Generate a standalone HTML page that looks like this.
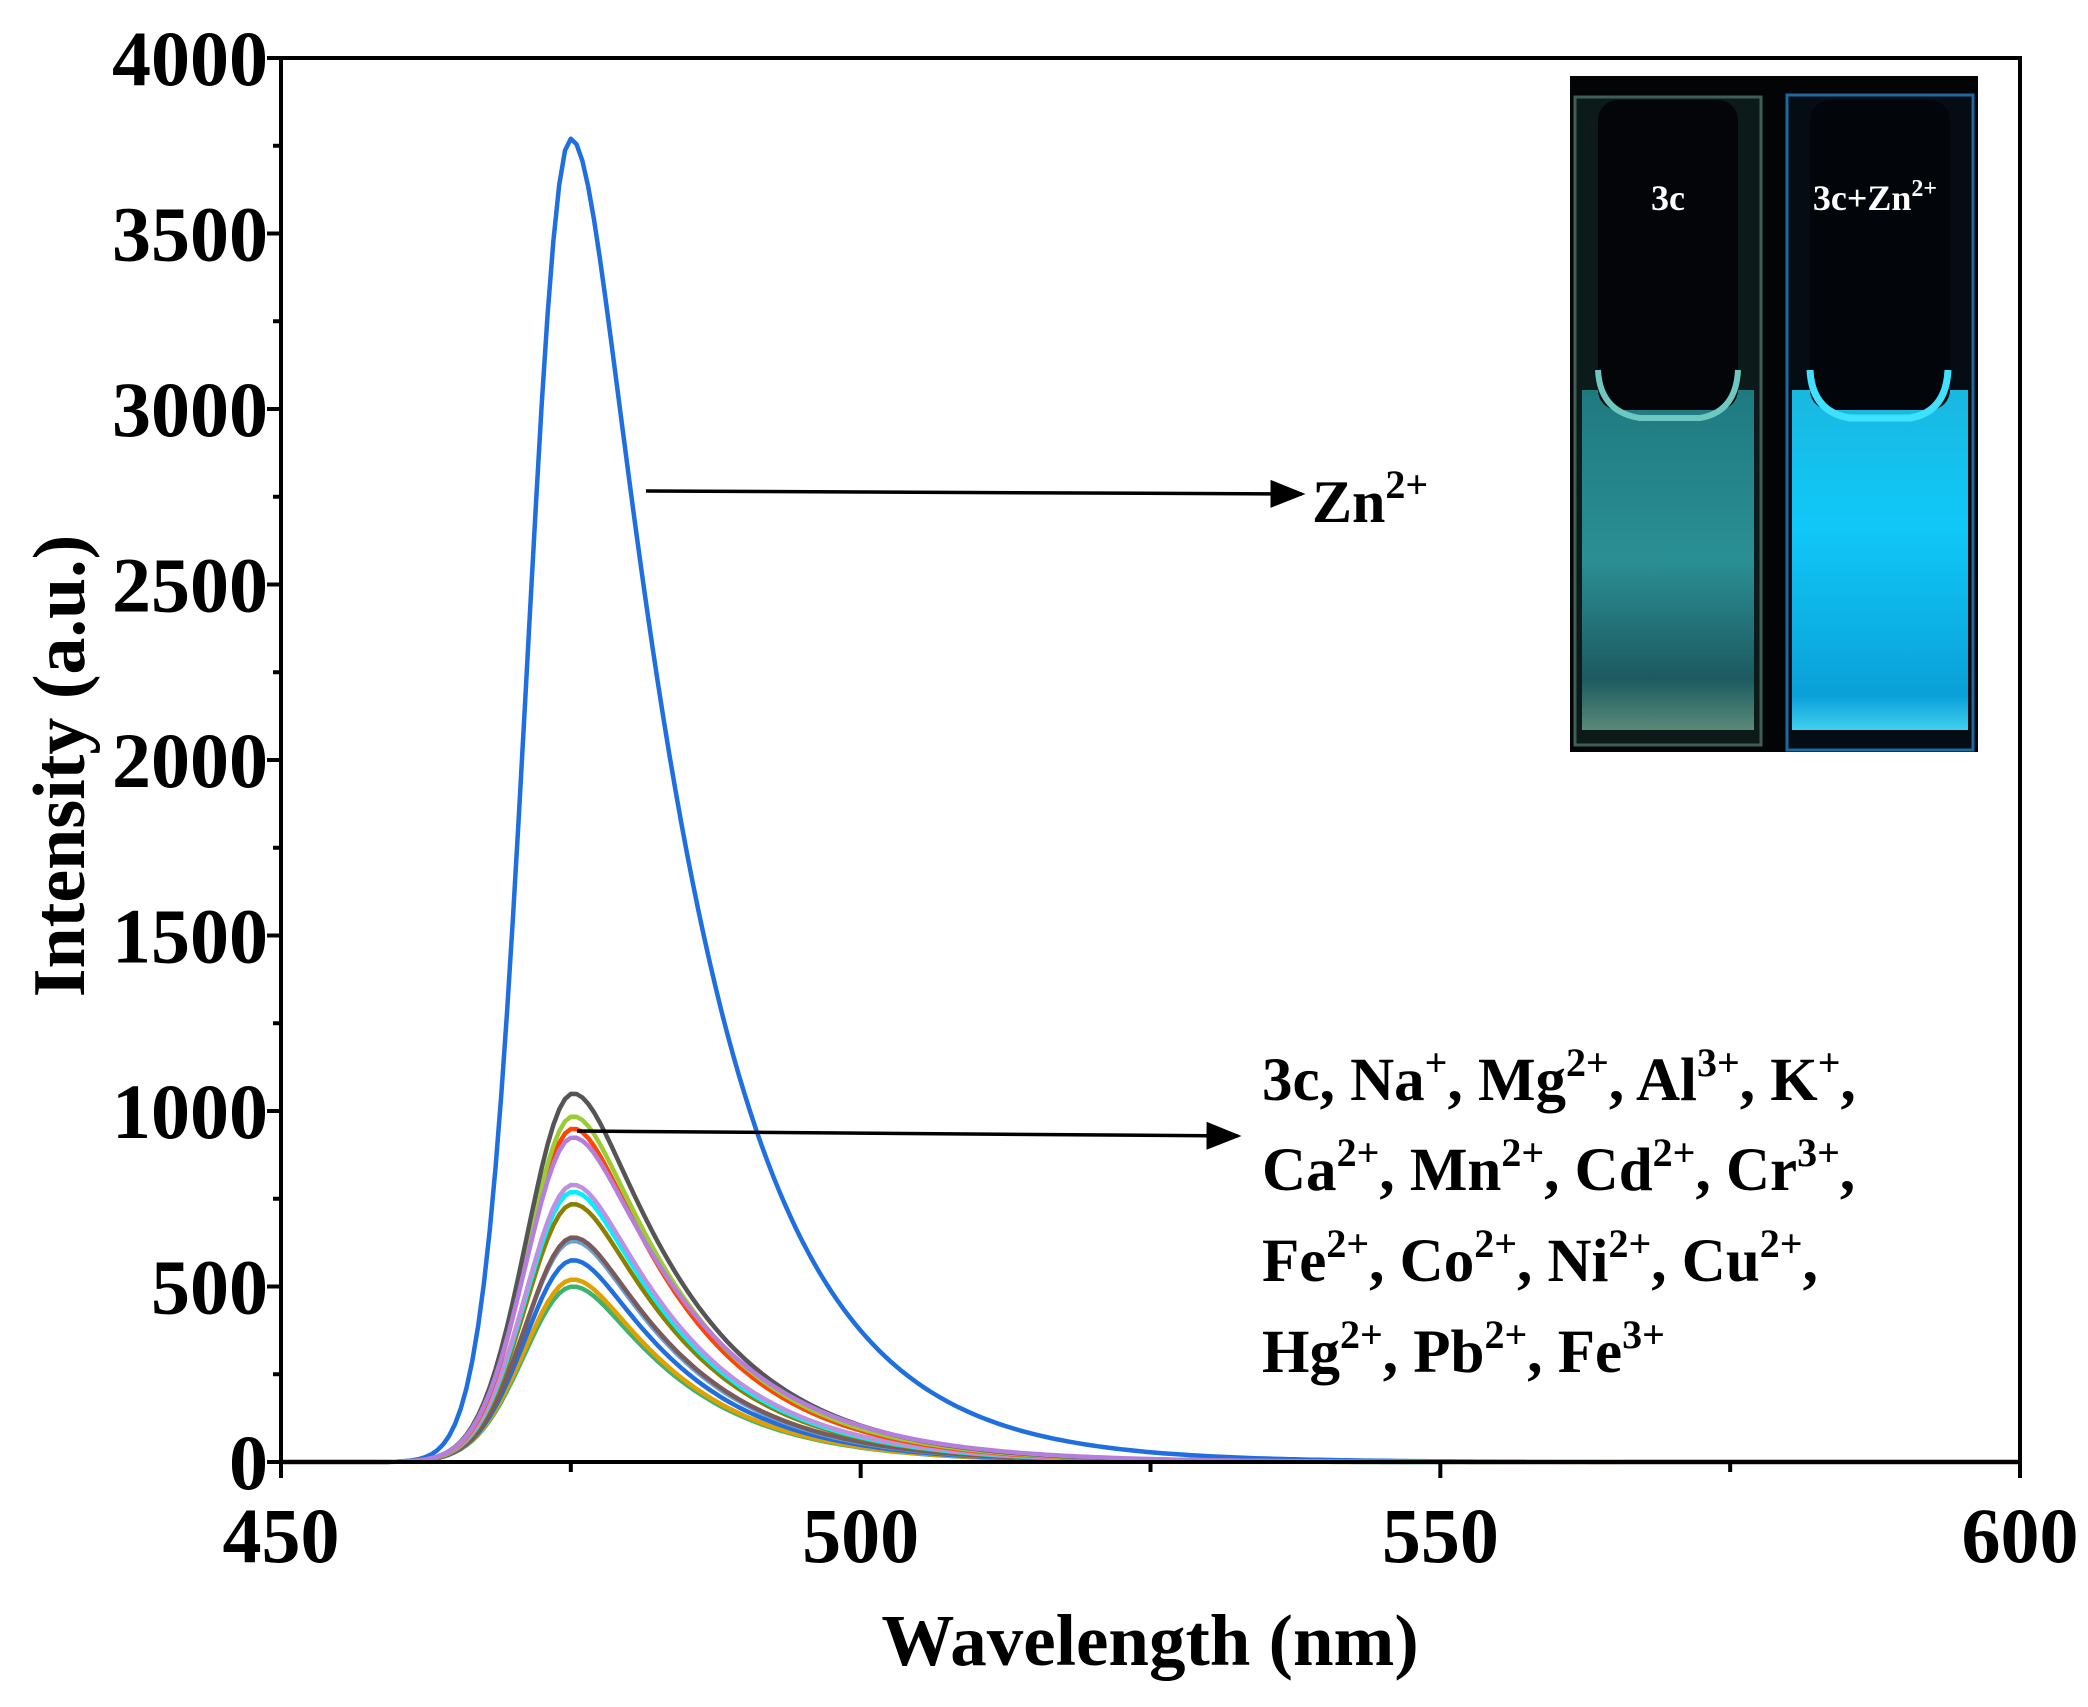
<!DOCTYPE html>
<html><head><meta charset="utf-8"><style>
html,body{margin:0;padding:0;background:#fff}
svg{display:block;font-family:"Liberation Serif",serif;font-weight:bold}
</style></head><body>
<svg id="s" width="2088" height="1707" viewBox="0 0 2088 1707" xmlns="http://www.w3.org/2000/svg">
<defs>
<linearGradient id="gl" x1="0" y1="0" x2="0" y2="1">
<stop offset="0" stop-color="#1e7a80"/><stop offset="0.5" stop-color="#2a8f94"/><stop offset="0.85" stop-color="#1c5a60"/><stop offset="1" stop-color="#5a8a78"/></linearGradient>
<linearGradient id="gr" x1="0" y1="0" x2="0" y2="1">
<stop offset="0" stop-color="#19b8e0"/><stop offset="0.4" stop-color="#10c8f8"/><stop offset="0.9" stop-color="#0aa0d8"/><stop offset="1" stop-color="#40d0f0"/></linearGradient>
<marker id="ah" markerWidth="10" markerHeight="8" refX="9" refY="4" orient="auto" markerUnits="strokeWidth"><path d="M0,0 L10,4 L0,8 z" fill="#000"/></marker>
</defs>
<g id="curves" fill="none" stroke-width="4.5" stroke-linejoin="round"></g>
<rect x="281" y="58" width="1739" height="1404" fill="none" stroke="#000" stroke-width="4"/>
<g id="ticks" stroke="#000" stroke-width="4"></g>
<g id="labels" font-size="78" fill="#000"></g>
<text x="1150" y="1665" font-size="73" text-anchor="middle">Wavelength (nm)</text>
<text transform="translate(84,766) rotate(-90)" font-size="74" text-anchor="middle">Intensity (a.u.)</text>
<!-- photo -->
<rect x="1570" y="76" width="408" height="676" fill="#020406"/>
<rect x="1575" y="97" width="186" height="648" fill="#0c1a1a" stroke="#3f5f55" stroke-width="3"/>
<rect x="1582" y="390" width="172" height="340" fill="url(#gl)"/>
<rect x="1598" y="100" width="140" height="310" rx="20" fill="#030508"/>
<path d="M1598,370 Q1600,412 1640,418 L1700,418 Q1736,412 1738,370" fill="none" stroke="#6fc8c0" stroke-width="6"/>
<rect x="1787" y="95" width="186" height="655" fill="#050c14" stroke="#1a6aa0" stroke-width="3"/>
<rect x="1792" y="390" width="176" height="340" fill="url(#gr)"/>
<rect x="1810" y="100" width="140" height="310" rx="20" fill="#02060a"/>
<path d="M1810,370 Q1812,412 1850,418 L1910,418 Q1946,412 1948,370" fill="none" stroke="#40e0ff" stroke-width="7"/>
<text x="1668" y="210" font-size="36" fill="#fff" text-anchor="middle">3c</text>
<text x="1875" y="210" font-size="36" fill="#fff" text-anchor="middle">3c+Zn<tspan font-size="24" dy="-14">2+</tspan></text>
<!-- annotations -->
<line x1="646" y1="491" x2="1302" y2="494" stroke="#000" stroke-width="3.5" marker-end="url(#ah)"/>
<text x="1312" y="522" font-size="60">Zn<tspan font-size="40" dy="-24">2+</tspan></text>
<line x1="577" y1="1131" x2="1238" y2="1136" stroke="#000" stroke-width="3.5" marker-end="url(#ah)"/>
<g font-size="61">
<text x="1262" y="1100">3c, Na<tspan font-size="40" dy="-24">+</tspan><tspan dy="24">, Mg</tspan><tspan font-size="40" dy="-24">2+</tspan><tspan dy="24">, Al</tspan><tspan font-size="40" dy="-24">3+</tspan><tspan dy="24">, K</tspan><tspan font-size="40" dy="-24">+</tspan><tspan dy="24">,</tspan></text>
<text x="1262" y="1190">Ca<tspan font-size="40" dy="-24">2+</tspan><tspan dy="24">, Mn</tspan><tspan font-size="40" dy="-24">2+</tspan><tspan dy="24">, Cd</tspan><tspan font-size="40" dy="-24">2+</tspan><tspan dy="24">, Cr</tspan><tspan font-size="40" dy="-24">3+</tspan><tspan dy="24">,</tspan></text>
<text x="1262" y="1281">Fe<tspan font-size="40" dy="-24">2+</tspan><tspan dy="24">, Co</tspan><tspan font-size="40" dy="-24">2+</tspan><tspan dy="24">, Ni</tspan><tspan font-size="40" dy="-24">2+</tspan><tspan dy="24">, Cu</tspan><tspan font-size="40" dy="-24">2+</tspan><tspan dy="24">,</tspan></text>
<text x="1262" y="1372">Hg<tspan font-size="40" dy="-24">2+</tspan><tspan dy="24">, Pb</tspan><tspan font-size="40" dy="-24">2+</tspan><tspan dy="24">, Fe</tspan><tspan font-size="40" dy="-24">3+</tspan></text>
</g>
</svg>
<script>
var NS="http://www.w3.org/2000/svg";
var X0=281,X1=2020,Y0=1462,Y1=58;
function X(l){return X0+(l-450)/150*(X1-X0);}
function Y(v){return Y0-v/4000*(Y0-Y1);}
function add(p,tag,at,txt){var e=document.createElementNS(NS,tag);for(var k in at)e.setAttribute(k,at[k]);if(txt!==undefined)e.textContent=txt;p.appendChild(e);return e;}
var T=document.getElementById('ticks'),L=document.getElementById('labels');
for(var v=0;v<=4000;v+=250){var y=Y(v),maj=v%500==0;add(T,'line',{x1:X0-(maj?14:8),y1:y,x2:X0,y2:y});
 if(maj)add(L,'text',{x:268,y:y+27,'text-anchor':'end'},String(v));}
for(var l=450;l<=600;l+=25){var x=X(l),maj=l%50==0;add(T,'line',{x1:x,y1:Y0,x2:x,y2:Y0+(maj?16:10)});
 if(maj)add(L,'text',{x:x,y:1562,'text-anchor':'middle'},String(l));}
function f(l,A,p,wl,tau){var d=l-p;if(d<0)return A*Math.exp(-(d/wl)*(d/wl));var a=3;return A*Math.exp(-(Math.sqrt(d*d+a*a)-a)/tau);}
var C=document.getElementById('curves');
var S=[["#3cb371",500,6.0,8.8],["#e0a000",520,6.0,8.8],["#1f6fe0",575,5.9,8.9],["#6a9fd4",630,5.9,9],["#7a5a5a",640,5.8,9.1],["#8b8000",735,5.8,9.2],["#00f0ff",770,5.8,9.2],["#c090e0",790,5.8,9.3],["#ff4500",950,5.7,9.3],["#9acd32",985,5.7,9.4],["#555555",1050,5.7,9.5],["#b57edc",925,5.8,10]];
function draw(c,A,wl,tau,p){var d="";for(var l=450;l<=600;l+=0.5){var v=f(l,A,p,wl,tau);d+=(l==450?"M":"L")+X(l).toFixed(1)+","+Y(v).toFixed(1);}add(C,'path',{d:d,stroke:c});}
draw("#1f6fe0",3770,5.3,9.6,475);
for(var i=0;i<S.length;i++)draw(S[i][0],S[i][1],S[i][2],S[i][3],475.2);
</script>
</body></html>
